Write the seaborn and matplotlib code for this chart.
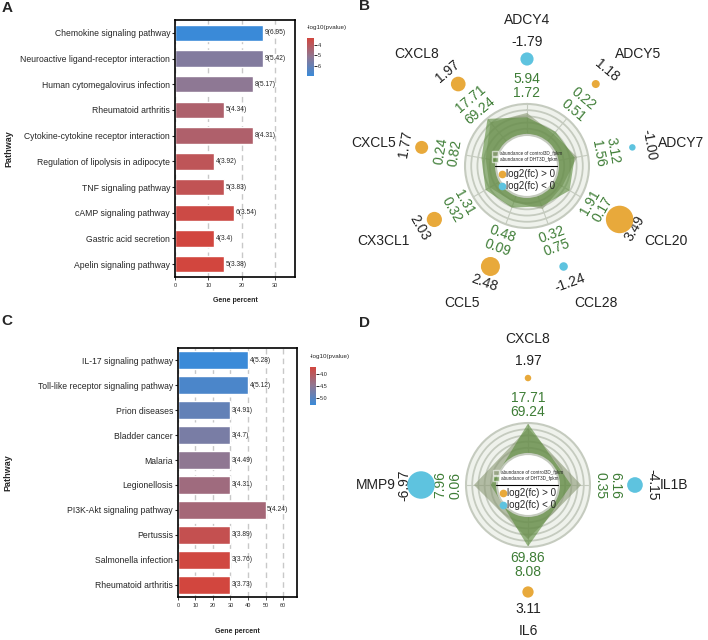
import numpy as np
import matplotlib
matplotlib.use("Agg")
import matplotlib.pyplot as plt
import seaborn as sns
from matplotlib.colors import LinearSegmentedColormap, Normalize
from matplotlib.cm import ScalarMappable
from matplotlib.patches import Patch
from matplotlib.lines import Line2D

sns.set_style("ticks")
plt.rcParams['font.family'] = ['Liberation Sans', 'DejaVu Sans']

# ---- KEGG bars, panel A
pathways_a = ["Chemokine signaling pathway", "Neuroactive ligand-receptor interaction",
              "Human cytomegalovirus infection", "Rheumatoid arthritis",
              "Cytokine-cytokine receptor interaction", "Regulation of lipolysis in adipocyte",
              "TNF signaling pathway", "cAMP signaling pathway", "Gastric acid secretion",
              "Apelin signaling pathway"]
percent_a = [26.5, 26.5, 23.5, 14.7, 23.5, 11.8, 14.7, 17.6, 11.8, 14.7]
count_a = [9, 9, 8, 5, 8, 4, 5, 6, 4, 5]
logp_a = [6.95, 5.42, 5.17, 4.34, 4.31, 3.92, 3.83, 3.54, 3.4, 3.38]

# ---- KEGG bars, panel C
pathways_c = ["IL-17 signaling pathway", "Toll-like receptor signaling pathway", "Prion diseases",
              "Bladder cancer", "Malaria", "Legionellosis", "PI3K-Akt signaling pathway",
              "Pertussis", "Salmonella infection", "Rheumatoid arthritis"]
percent_c = [40, 40, 30, 30, 30, 30, 50, 30, 30, 30]
count_c = [4, 4, 3, 3, 3, 3, 5, 3, 3, 3]
logp_c = [5.28, 5.12, 4.91, 4.7, 4.49, 4.31, 4.24, 3.89, 3.76, 3.73]

# ---- radar panel B (ctrl = control3D fpkm, dht = DHT3D fpkm)
genes_b = ["ADCY4", "ADCY5", "ADCY7", "CCL20", "CCL28", "CCL5", "CX3CL1", "CXCL5", "CXCL8"]
fc_b = [-1.79, 1.18, -1.00, 3.49, -1.24, 2.48, 2.03, 1.77, 1.97]
ctrl_b = [5.94, 0.22, 3.12, 0.17, 0.75, 0.09, 0.32, 0.24, 17.71]
dht_b = [1.72, 0.51, 1.56, 1.91, 0.32, 0.48, 1.31, 0.82, 69.24]

# ---- radar panel D
genes_d = ["CXCL8", "IL1B", "IL6", "MMP9"]
fc_d = [1.97, -4.15, 3.11, -6.97]
ctrl_d = [17.71, 6.16, 8.08, 7.96]
dht_d = [69.24, 0.35, 69.86, 0.06]

cmap = LinearSegmentedColormap.from_list("pv", ["#d2463e", "#8e7894", "#3a8ad8"])
ORANGE = "#e8a93b"
CYAN = "#5ec3df"
GREEN_TXT = "#3e7d36"
CTRL_COL = "#8a9874"
DHT_COL = "#5a8a3a"

fig = plt.figure(figsize=(7.08, 6.4), dpi=100)


def bar_panel(rect, cbar_rect, names, pct, cnt, logp, xmax, xticks, cb_ticks, cb_fmt, width, xlab_y, ylab_x):
    ax = fig.add_axes(rect)
    norm = Normalize(min(logp), max(logp))
    pal = {n: cmap(norm(v)) for n, v in zip(names, logp)}
    sns.barplot(x=pct, y=names, hue=names, palette=pal, legend=False, width=width,
                saturation=1, ax=ax, orient='h')
    for i, (p, c, v) in enumerate(zip(pct, cnt, logp)):
        ax.text(p + xmax * 0.012, i, f"{c}({v:g})", va='center', ha='left', fontsize=4.8)
    ax.set_xlim(0, xmax)
    ax.set_xticks(xticks)
    ax.grid(axis='x', color='#c8c8c8', linestyle=(0, (4, 3)), linewidth=1.0)
    ax.set_axisbelow(True)
    for sp in ax.spines.values():
        sp.set_linewidth(1.2)
        sp.set_color('black')
    ax.tick_params(axis='y', length=2.5, width=0.8, labelsize=6.2, pad=1)
    ax.tick_params(axis='x', length=2, width=0.6, labelsize=4, pad=2)
    ax.set_xlabel("Gene percent", fontsize=5, fontweight='bold')
    ax.set_ylabel("Pathway", fontsize=6.5, fontweight='bold')
    ax.xaxis.set_label_coords(0.5, xlab_y)
    ax.yaxis.set_label_coords(ylab_x, 0.5)

    cax = fig.add_axes(cbar_rect)
    cb = fig.colorbar(ScalarMappable(norm=norm, cmap=cmap), cax=cax)
    cax.invert_yaxis()
    cb.set_ticks(cb_ticks)
    cb.set_ticklabels([cb_fmt.format(t) for t in cb_ticks])
    cb.outline.set_visible(False)
    cax.tick_params(length=2, width=0.7, labelsize=4, pad=1)
    fig.text(cbar_rect[0], cbar_rect[1] + cbar_rect[3] + 0.016, "-log10(pvalue)",
             fontsize=4.5, ha='left', va='center')
    return ax


def radar_panel(rect, genes, fc, ctrl, dht):
    ax = fig.add_axes(rect, projection='polar')
    n = len(genes)
    theta = np.arange(n) * 2 * np.pi / n
    ax.set_theta_zero_location('N')
    ax.set_theta_direction(-1)
    lo, hi = -2.0, np.log10(80)
    ro = 2 * lo - hi
    ax.set_ylim(lo, hi)
    ax.set_rorigin(ro)

    def px(p):
        # pixel radius from the centre -> radial data value
        return ro + p / 62.0 * (hi - ro)

    ax.set_facecolor('#eff2ec')
    ax.set_xticks(theta)
    ax.set_xticklabels([])
    ax.set_yticks([px(p) for p in (37.2, 43.4, 49.6, 55.8)])
    ax.set_yticklabels([])
    ax.grid(True, color='#c5cbbf', linewidth=1.3)
    ax.xaxis.grid(True, color='#c5cbbf', linewidth=0.8)
    for sp in ax.spines.values():
        sp.set_color('#c5cbbf')
        sp.set_linewidth(1.5)

    tt = np.append(theta, theta[0])
    ax.fill(tt, np.log10(np.append(ctrl, ctrl[0])), color=CTRL_COL, alpha=0.6, lw=0, zorder=2)
    ax.fill(tt, np.log10(np.append(dht, dht[0])), color=DHT_COL, alpha=0.6, lw=0, zorder=2)

    mag = np.abs(fc)
    d = 6.5 + (mag - mag.min()) / (mag.max() - mag.min()) * 21
    cols = [ORANGE if v > 0 else CYAN for v in fc]
    ax.scatter(theta, np.full(n, px(107)), s=(d * 0.72) ** 2, c=cols, lw=0,
               clip_on=False, zorder=5)

    for t, g, v, c, h in zip(theta, genes, fc, ctrl, dht):
        deg = np.degrees(t)
        rot = (-deg + 180) % 360 - 180
        flip = rot < -90 or rot > 90
        if flip:
            rot = rot + 180 if rot < 0 else rot - 180
        green = f"{h:.2f}\n{c:.2f}" if flip else f"{c:.2f}\n{h:.2f}"
        ax.text(t, px(80), green, rotation=rot, rotation_mode='anchor', ha='center',
                va='center', color=GREEN_TXT, fontsize=10, linespacing=1.05)
        ax.text(t, px(124), f"{v:.2f}", rotation=rot, rotation_mode='anchor',
                ha='center', va='center', color='#222222', fontsize=10)
        a = np.radians(90 - deg)
        cx, sy = np.cos(a), np.sin(a)
        ha = 'left' if cx > 0.3 else ('right' if cx < -0.3 else 'center')
        va = 'bottom' if sy > 0.3 else ('top' if sy < -0.3 else 'center')
        ax.text(t, px(132 + 7 * abs(sy)), g, ha=ha, va=va, color='#222222', fontsize=10)

    h1 = [Patch(facecolor=CTRL_COL, alpha=0.6, label='abundance of control3D_fpkm'),
          Patch(facecolor=DHT_COL, alpha=0.6, label='abundance of DHT3D_fpkm')]
    leg1 = ax.legend(handles=h1, loc='center', bbox_to_anchor=(0.5, 0.575), fontsize=3.3,
                     frameon=False, handlelength=1.4, handleheight=1.4, handletextpad=0.3,
                     borderpad=0, labelspacing=0.15)
    ax.add_artist(leg1)
    h2 = [Line2D([], [], marker='o', ls='', color=ORANGE, markersize=4.5, label='log2(fc) > 0'),
          Line2D([], [], marker='o', ls='', color=CYAN, markersize=4.5, label='log2(fc) < 0')]
    ax.legend(handles=h2, loc='center', bbox_to_anchor=(0.5, 0.385), fontsize=7, frameon=False,
              handlelength=0.6, handletextpad=0.2, borderpad=0, labelspacing=0.2)
    ax.plot([0.24, 0.74], [0.5, 0.5], transform=ax.transAxes, color='black', lw=0.8,
            clip_on=False, zorder=6)
    return ax


bar_panel([0.2472, 0.5672, 0.1695, 0.4016], [0.4336, 0.8813, 0.0099, 0.0594],
          pathways_a, percent_a, count_a, logp_a, 36, [0, 10, 20, 30], [4, 5, 6], "{:g}",
          0.64, -0.078, -1.35)
bar_panel([0.2514, 0.0672, 0.1681, 0.3891], [0.4379, 0.3672, 0.0085, 0.0594],
          pathways_c, percent_c, count_c, logp_c, 68, [0, 10, 20, 30, 40, 50, 60],
          [4.0, 4.5, 5.0], "{:.1f}", 0.72, -0.124, -1.39)

radar_panel([0.6568, 0.6438, 0.1751, 0.19375], genes_b, fc_b, ctrl_b, dht_b)
radar_panel([0.6582, 0.1453, 0.1751, 0.19375], genes_d, fc_d, ctrl_d, dht_d)

for lab, x, y in [("A", 7, 8), ("B", 364, 6), ("C", 7, 321), ("D", 364, 323)]:
    fig.text(x / 708, 1 - y / 640, lab, fontsize=11, fontweight='bold', ha='center', va='center')

fig.savefig("out.png", dpi=100)
